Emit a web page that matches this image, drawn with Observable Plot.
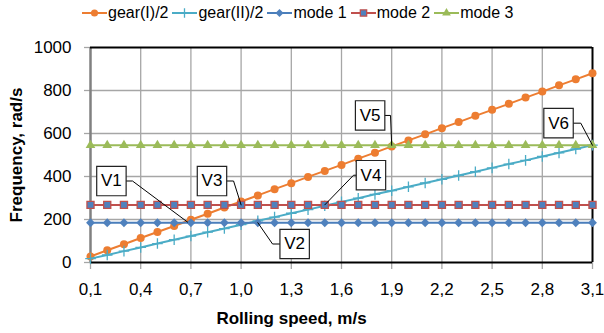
<!DOCTYPE html>
<html><head><meta charset="utf-8">
<script src="https://cdn.jsdelivr.net/npm/d3@7"></script>
<script src="https://cdn.jsdelivr.net/npm/@observablehq/plot@0.6"></script>
<style>
body{margin:0;background:#fff;font-family:"Liberation Sans",Arial,sans-serif;}
#legend{height:26px;display:flex;align-items:center;padding-left:82px;font-size:16px;color:#000;box-sizing:border-box;}
.item{display:flex;align-items:center;margin-right:4px;white-space:nowrap;}
.item svg{margin-right:1px;}
</style></head><body>
<div id="legend"></div>
<div id="chart"></div>
<script>
// ---- data ----
const speeds = [0.1,0.2,0.3,0.4,0.5,0.6,0.7,0.8,0.9,1.0,1.1,1.2,1.3,1.4,1.5,1.6,1.7,1.8,1.9,2.0,2.1,2.2,2.3,2.4,2.5,2.6,2.7,2.8,2.9,3.0,3.1];
const gearI  = [28,57,85,114,142,170,199,227,256,284,312,341,369,398,426,454,483,511,540,568,596,625,653,682,710,738,767,795,824,852,880];
const gearII = [18,35,53,70,88,106,123,141,158,176,194,211,229,246,264,282,299,317,334,352,370,387,405,422,440,458,475,493,510,528,546];
const mode1  = [185,185,185,185,185,185,185,185,185,185,185,185,185,185,185,185,185,185,185,185,185,185,185,185,185,185,185,185,185,185,185];
const mode2  = [268,268,268,268,268,268,268,268,268,268,268,268,268,268,268,268,268,268,268,268,268,268,268,268,268,268,268,268,268,268,268];
const mode3  = [545,545,545,545,545,545,545,545,545,545,545,545,545,545,545,545,545,545,545,545,545,545,545,545,545,545,545,545,545,545,545];
const seriesNames = ["gear(I)/2","gear(II)/2","mode 1","mode 2","mode 3"];
const xTicks = [0.1,0.4,0.7,1.0,1.3,1.6,1.9,2.2,2.5,2.8,3.1];
const yTicks = [0,200,400,600,800,1000];
const xTitle = "Rolling speed, m/s";
const yTitle = "Frequency, rad/s";
// annotations (data units)
const annLabels = ["V1","V2","V3","V4","V5","V6"];
const annX      = [0.225,1.32,0.826,1.776,1.771,2.897];
const annY      = [379,86,379,406,684,648];
const elbowX    = [0.351,1.188,0.955,1.672,1.893,3.03];
const targetX   = [0.68,1.1,1.0,1.5,1.9,3.1];
const targetY   = [188,185,268,268,545,545];

// ---- styles ----
const colors = ["#ED7D31","#4BACC6","#4A7EBB","#C0504D","#9BBB59"];
const symbols = ["circle","plus","diamond2","square","triangle"];
const fills = ["#ED7D31","none","#4F81BD","#4F81BD","#9BBB59"];
const strokes = ["none","#4BACC6","none","#C0504D","none"];
const rs = [4,3.5,4,4,3.6];
const allSeries = [gearI,gearII,mode1,mode2,mode3];

// legend
const d3sym = {circle:d3.symbolCircle,plus:d3.symbolPlus,diamond2:d3.symbolDiamond2,square:d3.symbolSquare,triangle:d3.symbolTriangle};
const legend = document.getElementById("legend");
seriesNames.forEach((name,i)=>{
  const it = document.createElement("div"); it.className="item";
  const ns="http://www.w3.org/2000/svg";
  const s=document.createElementNS(ns,"svg"); s.setAttribute("width",25); s.setAttribute("height",14);
  const l=document.createElementNS(ns,"line"); l.setAttribute("x1",0);l.setAttribute("x2",25);l.setAttribute("y1",7);l.setAttribute("y2",7);
  l.setAttribute("stroke",colors[i]); l.setAttribute("stroke-width",2); s.appendChild(l);
  const p=document.createElementNS(ns,"path");
  p.setAttribute("d", d3.symbol(d3sym[symbols[i]], rs[i]*rs[i]*Math.PI*0.8)());
  p.setAttribute("transform","translate(12.5,7)");
  p.setAttribute("fill",fills[i]); p.setAttribute("stroke",strokes[i]); p.setAttribute("stroke-width",1.3);
  s.appendChild(p); it.appendChild(s);
  const t=document.createElement("span"); t.textContent=name; it.appendChild(t);
  legend.appendChild(it);
});

const fmt = d => d.toFixed(1).replace(".", ",");
const ann = annLabels.map((l,i)=>({l, x:annX[i], y:annY[i]}));
const leaders = annLabels.flatMap((l,i)=>[
  {l, x:annX[i], y:annY[i]},
  {l, x:elbowX[i], y:annY[i]},
  {l, x:targetX[i], y:targetY[i]}
]);
const seriesMarks = allSeries.flatMap((vals,i)=>{
  const data = speeds.map((s,j)=>({x:s,y:vals[j]}));
  return [
    Plot.line(data,{x:"x",y:"y",stroke:colors[i],strokeWidth:2}),
    Plot.dot(data,{x:"x",y:"y",symbol:symbols[i],r:rs[i],fill:fills[i],stroke:strokes[i],strokeWidth:1.3})
  ];
});

const chart = Plot.plot({
  width:604, height:307,
  marginTop:21, marginBottom:71, marginLeft:90, marginRight:12,
  style:{fontFamily:'"Liberation Sans", Arial, sans-serif', background:"#fff", color:"#000"},
  x:{domain:[0.1,3.1]},
  y:{domain:[0,1000]},
  marks:[
    Plot.ruleY(yTicks.slice(1,-1),{stroke:"#a6a6a6",strokeWidth:1.3}),
    Plot.ruleX(xTicks.slice(1,-1),{y1:0,y2:1000,stroke:"#a6a6a6",strokeWidth:1.3}),
    Plot.axisX(xTicks,{label:null,tickSize:7,tickPadding:13,stroke:"#a6a6a6",strokeWidth:1.3,tickFormat:fmt,fontSize:17,fill:"#000"}),
    Plot.axisY(yTicks,{label:null,tickSize:6,tickPadding:13,stroke:"#a6a6a6",strokeWidth:1.3,tickFormat:d=>String(d),fontSize:17,fill:"#000"}),
    Plot.ruleX([0.1],{y1:0,y2:1000,stroke:"#808080",strokeWidth:2.5}),
    Plot.ruleY([0],{stroke:"#000",strokeWidth:2}),
    Plot.ruleY([1000],{stroke:"#000",strokeWidth:2}),
    Plot.ruleX([3.1],{y1:0,y2:1000,stroke:"#000",strokeWidth:2}),
    ...seriesMarks,
    Plot.line(leaders,{x:"x",y:"y",z:"l",stroke:"#000",strokeWidth:1}),
    Plot.dot(ann,{x:"x",y:"y",symbol:"square",r:16.6,fill:"#fff",stroke:"#222",strokeWidth:1.2}),
    Plot.text(ann,{x:"x",y:"y",text:"l",fontSize:17,fill:"#000"}),
    Plot.text([yTitle],{frameAnchor:"left",textAnchor:"middle",lineAnchor:"middle",dx:-74,rotate:-90,fontSize:17,fontWeight:"bold",fill:"#000"}),
    Plot.text([xTitle],{frameAnchor:"bottom",textAnchor:"middle",lineAnchor:"middle",dx:-50,dy:56,fontSize:17,fontWeight:"bold",fill:"#000"})
  ]
});
document.getElementById("chart").appendChild(chart);
</script>
</body></html>
